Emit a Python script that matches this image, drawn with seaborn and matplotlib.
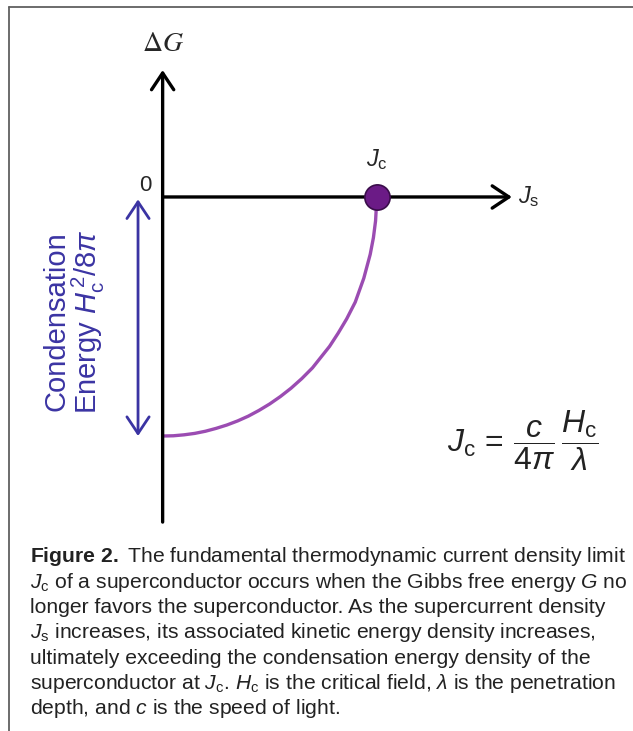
import matplotlib
matplotlib.use("Agg")
import matplotlib.pyplot as plt
import seaborn as sns
import pandas as pd
from matplotlib.lines import Line2D

# Curve (J_s / J_c, Delta G in units of H_c^2/8pi)
js_curve = [0.0, 0.05, 0.1, 0.15, 0.2, 0.25, 0.3, 0.35, 0.4, 0.45, 0.5, 0.55, 0.6, 0.65, 0.7,
            0.74, 0.78, 0.82, 0.86, 0.9, 0.94, 0.97, 0.985, 0.995, 1.0, 1.0]
dg_curve = [-1.0, -0.999, -0.995, -0.989, -0.98, -0.968, -0.954, -0.937, -0.917, -0.893, -0.866,
            -0.835, -0.80, -0.76, -0.715, -0.67, -0.625, -0.57, -0.51, -0.44, -0.34, -0.24,
            -0.17, -0.10, -0.04, 0.0]

# Critical point
jc_x = [1.0]
jc_y = [0.0]

caption_lines = [
    r"$\mathbf{Figure\ 2.}$ The fundamental thermodynamic current density limit",
    r"$J_{\rm c}$ of a superconductor occurs when the Gibbs free energy $G$ no",
    "longer favors the superconductor. As the supercurrent density",
    r"$J_{\rm s}$ increases, its associated kinetic energy density increases,",
    "ultimately exceeding the condensation energy density of the",
    r"superconductor at $J_{\rm c}$. $H_{\rm c}$ is the critical field, $\lambda$ is the penetration",
    r"depth, and $c$ is the speed of light.",
]

sns.set_style("white")
plt.rcParams["font.family"] = ["Liberation Sans", "DejaVu Sans"]
plt.rcParams["mathtext.fontset"] = "custom"
plt.rcParams["mathtext.rm"] = "Liberation Sans"
plt.rcParams["mathtext.it"] = "Liberation Sans:italic"
plt.rcParams["mathtext.bf"] = "Liberation Sans:bold"

fig = plt.figure(figsize=(6.33, 7.31), dpi=100)
ax = fig.add_axes([0, 0, 1, 1])
ax.set_xlim(-0.760, 2.198)
ax.set_ylim(-2.234, 0.824)
ax.axis("off")

# frame lines (top and left)
fig.add_artist(Line2D([9 / 633, 1], [1 - 7 / 731, 1 - 7 / 731], color="#606060", lw=1.3, transform=fig.transFigure))
fig.add_artist(Line2D([9 / 633, 9 / 633], [0, 1 - 7 / 731], color="#606060", lw=1.3, transform=fig.transFigure))

# axes arrows
head = "->,head_length=0.6,head_width=0.4"
ax.annotate("", xy=(0, 0.531), xytext=(0, -1.36),
            arrowprops=dict(arrowstyle=head, color="black", lw=2.4, mutation_scale=20, shrinkA=0, shrinkB=0))
ax.annotate("", xy=(1.632, 0), xytext=(0, 0),
            arrowprops=dict(arrowstyle=head, color="black", lw=2.4, mutation_scale=20, shrinkA=0, shrinkB=0))

# curve and critical point
df = pd.DataFrame({"J": js_curve, "G": dg_curve})
sns.lineplot(data=df, x="J", y="G", sort=False, color="#9b4cb2", lw=2.4, ax=ax)
sns.scatterplot(x=jc_x, y=jc_y, s=330, color="#6b1b86", edgecolor="#3a0d4a", linewidth=1.2, ax=ax, zorder=5)

# labels
ax.text(0, 0.64, r"$\Delta G$", ha="center", va="center", fontsize=20, math_fontfamily="stix")
ax.text(-0.08, 0.05, "0", ha="center", va="center", fontsize=16)
ax.text(1.0, 0.155, r"$J_{\rm c}$", ha="center", va="center", fontsize=17)
ax.text(1.66, 0.0, r"$J_{\rm s}$", ha="left", va="center", fontsize=17)

# condensation energy arrow and label
blue = "#3b34a3"
ax.annotate("", xy=(-0.115, -0.01), xytext=(-0.115, -1.0),
            arrowprops=dict(arrowstyle="<->,head_length=0.6,head_width=0.4", color=blue, lw=2.0,
                            mutation_scale=20, shrinkA=0, shrinkB=0))
ax.text(-0.495, -0.52, "Condensation", rotation=90, ha="center", va="center", fontsize=21, color=blue)
ax.text(-0.345, -0.52, r"Energy $H_{\rm c}^{\,2}/8\pi$", rotation=90, ha="center", va="center",
        fontsize=21, color=blue)

# formula
ax.text(1.33, -1.02, r"$J_{\rm c}\,=\,\dfrac{c}{4\pi}\,\dfrac{H_{\rm c}}{\lambda}$", ha="left", va="center",
        fontsize=23, color="#222222")

# caption
for i, line in enumerate(caption_lines):
    fig.text(30 / 633, 1 - (557 + 25.3 * i) / 731, line, ha="left", va="center", fontsize=15.2, color="#222222")

fig.savefig("out.png", dpi=100)
